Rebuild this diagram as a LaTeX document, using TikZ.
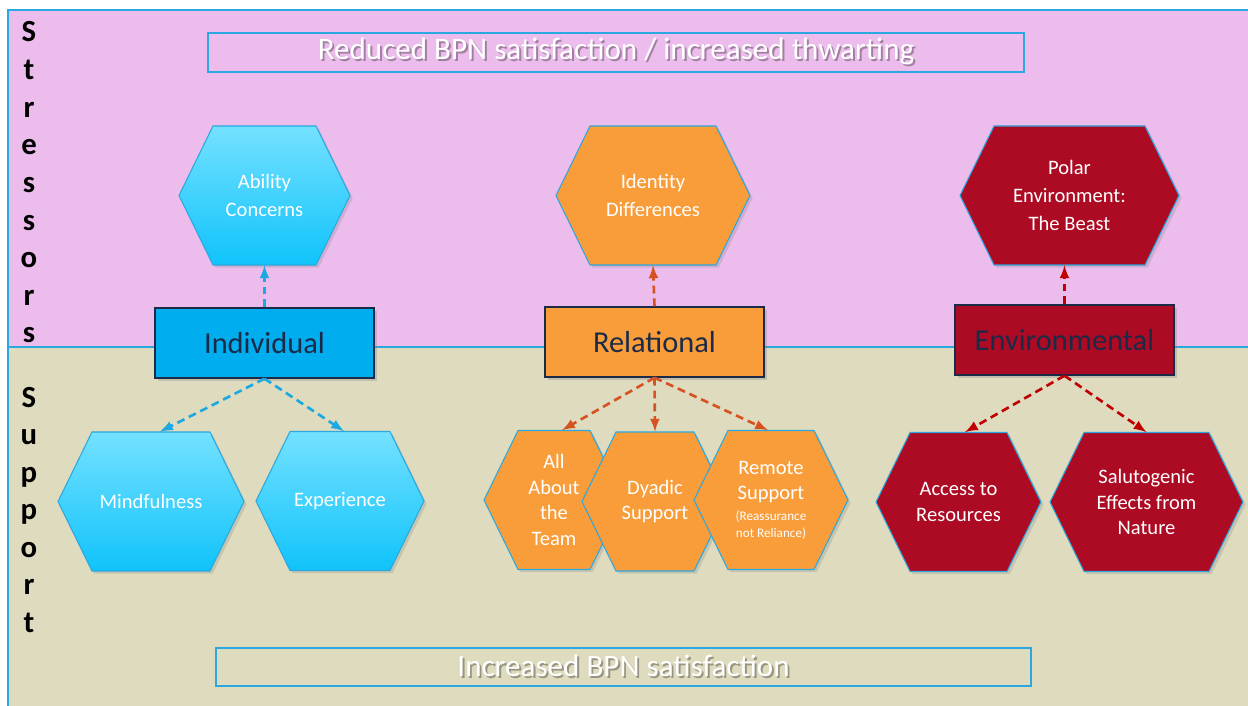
\documentclass[tikz,border=0pt]{standalone}
\usepackage{fontspec}
\setmainfont{Carlito}
\usetikzlibrary{shadows}
\usetikzlibrary{arrows}

\definecolor{stressbg}{HTML}{EBBCEC}
\definecolor{supportbg}{HTML}{DEDBBE}
\definecolor{edgeblue}{HTML}{2AA8E0}
\definecolor{indblue}{HTML}{00ADEF}
\definecolor{hextop}{HTML}{74E1FF}
\definecolor{hexbot}{HTML}{10C3FB}
\definecolor{relorange}{HTML}{F99D3A}
\definecolor{envred}{HTML}{AD0A23}
\definecolor{navy}{HTML}{1B2A47}
\definecolor{indarrow}{HTML}{1BA9E3}
\definecolor{relarrow}{HTML}{D65220}
\definecolor{envarrow}{HTML}{C00000}

\tikzset{
  sideletter/.style={anchor=base, font=\fontsize{17.5}{20}\selectfont\bfseries},
  banner/.style={draw=edgeblue, line width=0.9pt, text=white, inner sep=0pt,
    font=\fontsize{17.7}{20}\selectfont},
  catbox/.style={draw=navy, line width=0.8pt, text=navy, inner sep=0pt,
    minimum width=4.38cm, minimum height=1.4cm, font=\fontsize{17.3}{20}\selectfont,
    drop shadow={opacity=0.3, shadow xshift=1.5pt, shadow yshift=-1.5pt}},
  hexshape/.style={draw=edgeblue, line width=0.6pt,
    drop shadow={opacity=0.25, shadow xshift=1.5pt, shadow yshift=-1.5pt}},
  bluehex/.style={hexshape, top color=hextop, bottom color=hexbot},
  orangehex/.style={hexshape, fill=relorange},
  redhex/.style={hexshape, fill=envred},
  hextext/.style={text=white, align=center, inner sep=0pt, minimum height=2.78cm,
    font=\fontsize{11.7}{14.6}\selectfont},
  link/.style={-latex, line width=1.5pt, dash pattern=on 4.5pt off 2.8pt},
}

% hexagon with flat top and bottom: style, name, centre, half width, text
\newcommand{\hexcell}[5]{%
  \path[#1] #3 ++(-#4,0) -- ++(34,-69.5) -- ++({2*#4-68},0) -- ++(34,69.5)
    -- ++(-34,69.5) -- ++({68-2*#4},0) -- cycle;
  \node[hextext, minimum width={#4*0.04cm}] (#2) at #3 {#5};
}
% white text with a darker copy underneath
\newcommand{\liftedtext}[2]{\makebox[0pt][l]{\hspace{1.1pt}\raisebox{-1.1pt}{\textcolor{#1}{#2}}}#2}

\begin{document}
\begin{tikzpicture}[x=0.02cm,y=-0.02cm]
\useasboundingbox (0,0) rectangle (1248,706);
\fill[white] (0,0) rectangle (1248,706);

% the two bands
\fill[stressbg] (8,10) rectangle (1248,347);
\fill[supportbg] (8,347) rectangle (1248,706);
\draw[edgeblue, line width=0.6pt] (8,706) -- (8,10) -- (1248,10);
\draw[edgeblue, line width=0.6pt] (8,347) -- (1248,347);

\foreach \l [count=\i] in {S,t,r,e,s,s,o,r,s} {
\node[sideletter] (stress\i) at (29,{42+37.6*(\i-1)}) {\l};
}
\foreach \l [count=\i] in {S,u,p,p,o,r,t} {
\node[sideletter] (supp\i) at (29,{407+37.5*(\i-1)}) {\l};
}

\node[banner, minimum width=16.32cm, minimum height=0.78cm] (reduced) at (616,52.5)
  {\liftedtext{stressbg!68!black}{Reduced BPN satisfaction / increased thwarting}};
\node[banner, minimum width=16.3cm, minimum height=0.76cm] (increased) at (623.5,667)
  {\liftedtext{supportbg!68!black}{Increased BPN satisfaction}};

% individual
\hexcell{bluehex}{ability}{(264.5,195.5)}{85.5}{Ability\\[1.5pt]Concerns}
\node[catbox, fill=indblue] (ind) at (264.5,343) {Individual};
\hexcell{bluehex}{mind}{(151,501.5)}{93}{Mindfulness}
\hexcell{bluehex}{exper}{(340,501)}{84}{Experience}
\draw[link, indarrow] (ind.north) -- (ability.south);
\draw[link, indarrow] (ind.south) -- ([xshift=0.18cm]mind.north);
\draw[link, indarrow] (ind.south) -- ([xshift=0.08cm]exper.north);

% relational
\hexcell{orangehex}{ident}{(653,195.5)}{97}{Identity\\[1.5pt]Differences}
\node[catbox, fill=relorange] (rel) at (654.5,342) {Relational};
\hexcell{orangehex}{team}{(554,500)}{70}{All\\About\\the\\Team}
\hexcell{orangehex}{dyad}{(655,501.5)}{73}{Dyadic\\Support}
\hexcell{orangehex}{remote}{(771,500)}{77}{Remote\\Support\\[-3pt]
  {\fontsize{7.5}{9}\selectfont(Reassurance}\\[-5pt]{\fontsize{7.5}{9}\selectfont not Reliance)}}
\draw[link, relarrow] (rel.north) -- (ident.south);
\draw[link, relarrow] (rel.south) -- ([xshift=0.16cm]team.north);
\draw[link, relarrow] (rel.south) -- (dyad.north);
\draw[link, relarrow] (rel.south) -- ([xshift=-0.06cm]remote.north);

% environmental
\hexcell{redhex}{polar}{(1069.5,195.5)}{109.5}{Polar\\[1.5pt]Environment:\\[1.5pt]The Beast}
\node[catbox, fill=envred] (env) at (1064.5,340) {Environmental};
\hexcell{redhex}{access}{(958.5,502)}{82.5}{Access to\\Resources}
\hexcell{redhex}{salut}{(1146.5,502)}{96.5}{Salutogenic\\Effects from\\Nature}
\draw[link, envarrow] (env.north) -- (env.north |- polar.south);
\draw[link, envarrow] (env.south) -- ([xshift=0.13cm]access.north);
\draw[link, envarrow] (env.south) -- (salut.north);
\end{tikzpicture}
\end{document}
